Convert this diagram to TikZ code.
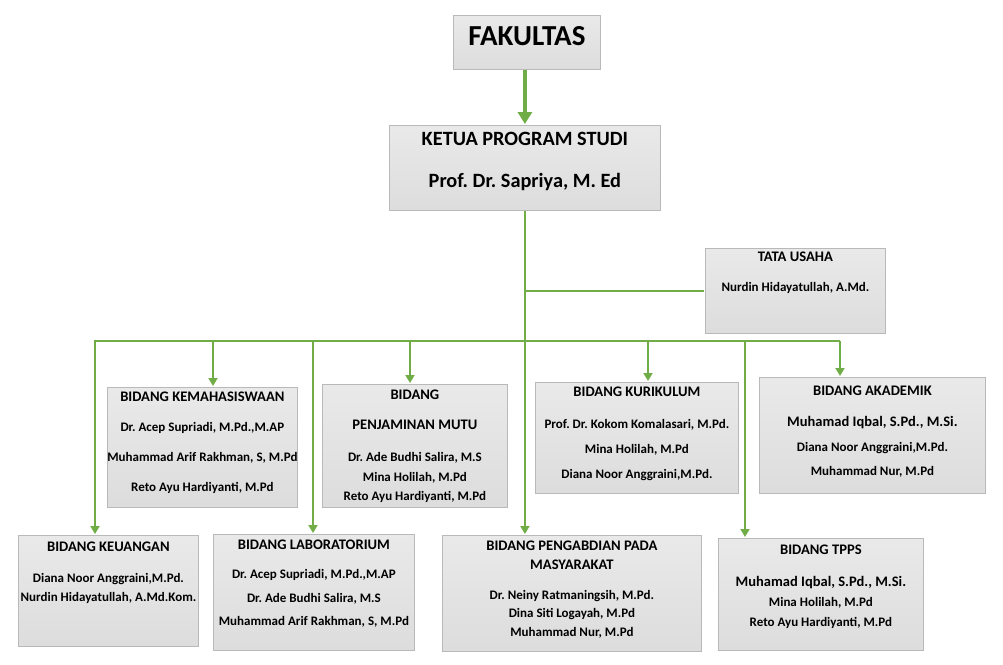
\documentclass[tikz,border=0pt]{standalone}
\usepackage{fontspec}
\setmainfont{Carlito}
\usetikzlibrary{positioning,arrows.meta}
\definecolor{linkgreen}{RGB}{112,173,71}
\tikzset{>={Triangle[width=9pt,length=8pt]}}
\frenchspacing
\newcommand\boxtitle[1]{{\fontsize{14.6}{15}\selectfont #1}}
\newcommand\bigname[1]{{\fontsize{14.5}{15}\selectfont #1}}

\begin{document}
\begin{tikzpicture}[x=1pt,y=-1pt,
  box/.style={draw=gray!55,line width=0.8pt,top color=gray!17,bottom color=gray!27,
    anchor=north west,inner sep=0pt},
  txt/.style={align=center,inner sep=0pt,font={\bfseries\fontsize{13}{15}\selectfont}},
  link/.style={draw=linkgreen,line width=1.8pt,shorten >=1pt}]
\useasboundingbox (0,0) rectangle (1003,664);
% boxes
\node[box,minimum width=147pt,minimum height=54pt] (fak) at (453,15) {};
\node[box,minimum width=271pt,minimum height=85pt] (ketua) at (389,125) {};
\node[box,minimum width=180pt,minimum height=85pt] (tu) at (705,248) {};
\node[box,minimum width=190pt,minimum height=120pt] (kem) at (107,387) {};
\node[box,minimum width=185pt,minimum height=123pt] (pen) at (322,384) {};
\node[box,minimum width=203pt,minimum height=111pt] (kur) at (535,382) {};
\node[box,minimum width=226pt,minimum height=116pt] (aka) at (759,377) {};
\node[box,minimum width=180pt,minimum height=111pt] (keu) at (18,535) {};
\node[box,minimum width=201pt,minimum height=116pt] (lab) at (213,534) {};
\node[box,minimum width=259pt,minimum height=116pt] (peng) at (442,535) {};
\node[box,minimum width=205pt,minimum height=112pt] (tpps) at (718,538) {};
% texts
\node[txt,font={\bfseries\fontsize{29}{32}\selectfont}] (fak-t) at ([yshift=6pt]fak.center) {FAKULTAS};
\node[txt,font={\bfseries\fontsize{20.3}{22}\selectfont},below=7pt of ketua.north] (ketua-t)
  {KETUA PROGRAM STUDI\\[20pt]Prof. Dr. Sapriya, M. Ed};
\node[txt,below=4pt of tu.north] (tu-t) {\boxtitle{TATA USAHA}\\[15pt]Nurdin Hidayatullah, A.Md.};
\node[txt,below=5pt of kem.north] (kem-t) {\boxtitle{BIDANG KEMAHASISWAAN}\\[15pt]
  Dr. Acep Supriadi, M.Pd.,M.AP\\[15pt]Muhammad Arif Rakhman, S, M.Pd\\[15pt]Reto Ayu Hardiyanti, M.Pd};
\node[txt,below=6pt of pen.north] (pen-t) {\boxtitle{BIDANG}\\[15pt]\boxtitle{PENJAMINAN MUTU}\\[17pt]
  Dr. Ade Budhi Salira, M.S\\[5pt]Mina Holilah, M.Pd\\[4pt]Reto Ayu Hardiyanti, M.Pd};
\node[txt,below=5pt of kur.north] (kur-t) {\boxtitle{BIDANG KURIKULUM}\\[17pt]
  Prof. Dr. Kokom Komalasari, M.Pd.\\[10pt]Mina Holilah, M.Pd\\[10pt]Diana Noor Anggraini,M.Pd.};
\node[txt,below=9pt of aka.north] (aka-t) {\boxtitle{BIDANG AKADEMIK}\\[16pt]
  \bigname{Muhamad Iqbal, S.Pd., M.Si.}\\[10pt]Diana Noor Anggraini,M.Pd.\\[9pt]Muhammad Nur, M.Pd};
\node[txt,below=7pt of keu.north] (keu-t) {\boxtitle{BIDANG KEUANGAN}\\[16pt]
  Diana Noor Anggraini,M.Pd.\\[4pt]Nurdin Hidayatullah, A.Md.Kom.};
\node[txt,below=6pt of lab.north] (lab-t) {\boxtitle{BIDANG LABORATORIUM}\\[14pt]
  Dr. Acep Supriadi, M.Pd.,M.AP\\[9pt]Dr. Ade Budhi Salira, M.S\\[8pt]Muhammad Arif Rakhman, S, M.Pd};
\node[txt,below=6pt of peng.north] (peng-t) {\boxtitle{BIDANG PENGABDIAN PADA}\\[4pt]\boxtitle{MASYARAKAT}\\[15pt]
  Dr. Neiny Ratmaningsih, M.Pd.\\[3pt]Dina Siti Logayah, M.Pd\\[4pt]Muhammad Nur, M.Pd};
\node[txt,below=7pt of tpps.north] (tpps-t) {\boxtitle{BIDANG TPPS}\\[17pt]
  \bigname{Muhamad Iqbal, S.Pd., M.Si.}\\[5pt]Mina Holilah, M.Pd\\[5pt]Reto Ayu Hardiyanti, M.Pd};
% connectors
\draw[link,line width=4pt,-{Triangle[width=14pt,length=12pt]}] (fak.south -| ketua.north) -- (ketua.north);
\draw[link,->] (ketua.south) -- (ketua.south |- peng.north);
\draw[link] (ketua.south |- tu.west) -- (tu.west);
\coordinate (busL) at (95,341);
\coordinate (busR) at (840,341);
\draw[link,line cap=rect] (busL) -- (busR);
\foreach \x/\b in {95/keu,213/kem,313/lab,410/pen,648/kur,745/tpps,840/aka}
  \draw[link,->] (\x,341) -- (\x,341 |- \b.north);
\end{tikzpicture}
\end{document}
